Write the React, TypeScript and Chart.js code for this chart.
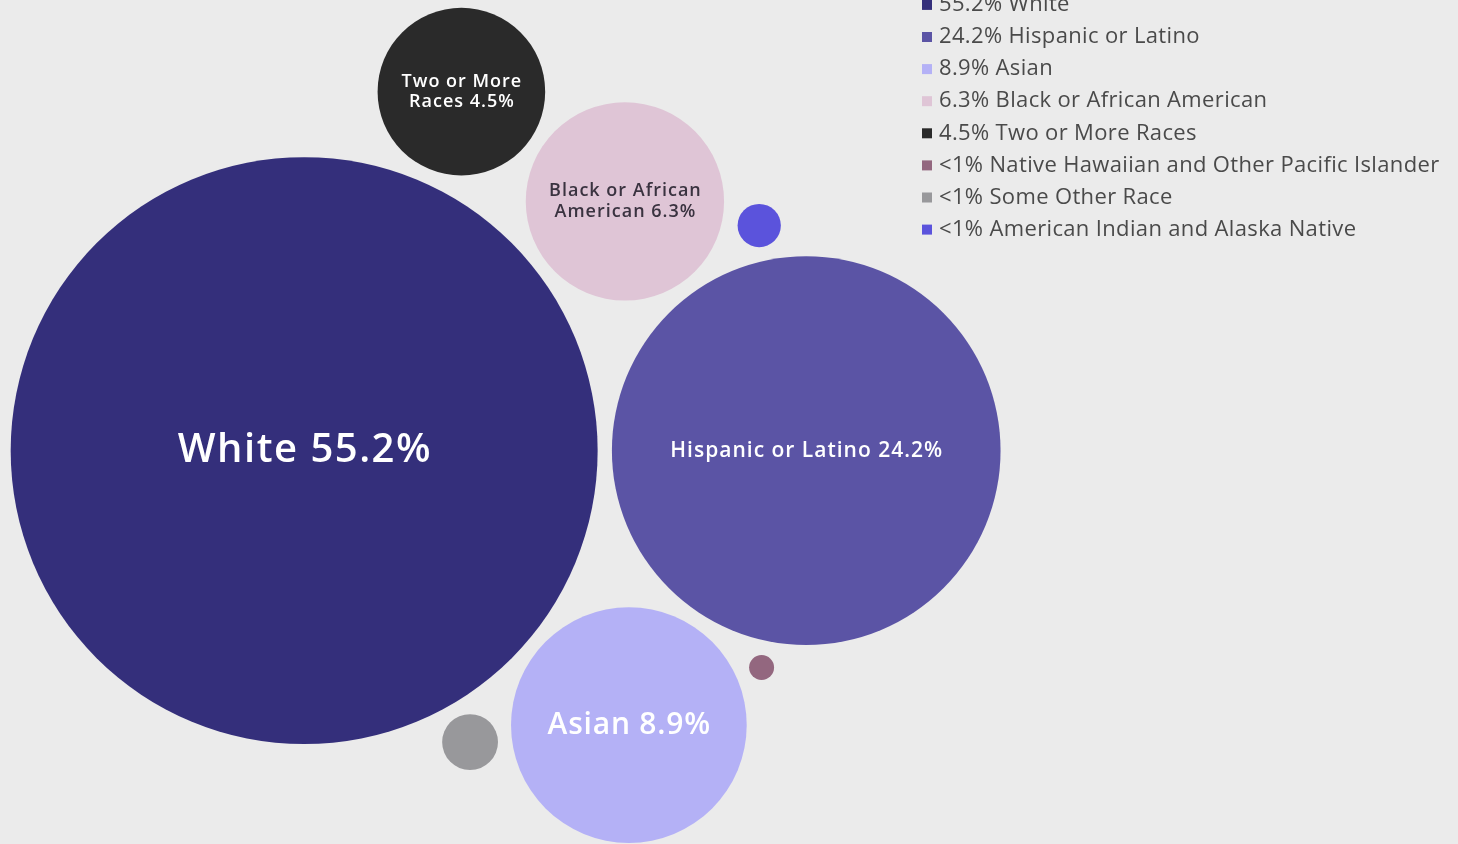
import React, { useEffect, useRef } from "react";
import { Chart, registerables } from "chart.js";

Chart.register(...registerables);

// ---- data ----
const groups = [
  "White",
  "Hispanic or Latino",
  "Asian",
  "Black or African American",
  "Two or More Races",
  "Native Hawaiian and Other Pacific Islander",
  "Some Other Race",
  "American Indian and Alaska Native",
];
const shares = [55.2, 24.2, 8.9, 6.3, 4.5, 0.1, 0.5, 0.3];
const shareLabels = ["55.2%", "24.2%", "8.9%", "6.3%", "4.5%", "<1%", "<1%", "<1%"];
// packed-bubble layout positions (units of sqrt(percent))
const bubbleX = [7.7, 20.41, 15.92, 15.82, 11.68, 19.28, 11.9, 19.22];
const bubbleY = [9.96, 9.96, 3.01, 16.27, 19.05, 4.47, 2.58, 15.66];
const bubbleLabelLines = [
  ["White 55.2%"],
  ["Hispanic or Latino 24.2%"],
  ["Asian 8.9%"],
  ["Black or African", "American 6.3%"],
  ["Two or More", "Races 4.5%"],
  [],
  [],
  [],
];

// ---- styles ----
const colors = ["#342f7b", "#5b54a5", "#b4b1f6", "#dfc5d6", "#2a2a2a", "#93677f", "#98989b", "#5b53dc"];
const labelColors = ["#ffffff", "#ffffff", "#ffffff", "#3a3340", "#ffffff", "#fff", "#fff", "#fff"];
const labelSizes = [40, 21, 30, 18, 18, 12, 12, 12];
const labelSpacing = [1.5, 1, 0.8, 1, 1, 0, 0, 0];
const X_MAX = 36.91;
const Y_MAX = 21.37;
const FONT = "'Open Sans', sans-serif";

const labelPlugin = {
  id: "bubbleLabels",
  afterDatasetsDraw(chart: any) {
    const ctx = chart.ctx;
    ctx.save();
    ctx.textAlign = "center";
    ctx.textBaseline = "middle";
    chart.data.datasets.forEach((ds: any, i: number) => {
      const el = chart.getDatasetMeta(i).data[0];
      if (!el) return;
      const lines = bubbleLabelLines[i];
      const size = labelSizes[i];
      const lh = size * 1.12;
      ctx.font = `600 ${size}px ${FONT}`;
      (ctx as any).letterSpacing = `${labelSpacing[i]}px`;
      ctx.fillStyle = labelColors[i];
      lines.forEach((t, k) => {
        ctx.fillText(t, el.x + labelSpacing[i] / 2, el.y + (k - (lines.length - 1) / 2) * lh);
      });
    });
    ctx.restore();
  },
};

const legendPlugin = {
  id: "sideLegend",
  afterDraw(chart: any) {
    const ctx = chart.ctx;
    ctx.save();
    ctx.textAlign = "left";
    ctx.textBaseline = "middle";
    ctx.font = `400 22px ${FONT}`;
    (ctx as any).letterSpacing = "0.35px";
    groups.forEach((g, i) => {
      const y = 4.9 + i * 32.1;
      ctx.fillStyle = colors[i];
      ctx.fillRect(922, y - 5, 10, 10);
      ctx.fillStyle = "#4a4a4a";
      ctx.fillText(`${shareLabels[i]} ${g}`, 939, y);
    });
    ctx.restore();
  },
};

export default function App() {
  const ref = useRef<HTMLCanvasElement>(null);
  useEffect(() => {
    if (!ref.current) return;
    const chart = new Chart(ref.current, {
      type: "bubble",
      data: {
        datasets: groups.map((g, i) => ({
          label: g,
          data: [{ x: bubbleX[i], y: bubbleY[i], r: 1 }],
          backgroundColor: colors[i],
          borderWidth: 0,
          clip: false,
          hoverRadius: 0,
        })),
      },
      options: {
        responsive: false,
        animation: false,
        events: [],
        layout: { padding: 0, autoPadding: false },
        scales: {
          x: { type: "linear", min: 0, max: X_MAX, display: false },
          y: { type: "linear", min: 0, max: Y_MAX, display: false },
        },
        plugins: { legend: { display: false }, tooltip: { enabled: false } },
      },
      plugins: [labelPlugin, legendPlugin],
    } as any);
    // bubble area proportional to share: radius = sqrt(share) in x-axis units
    const sx = chart.scales.x;
    const pxPerUnit = sx.getPixelForValue(1) - sx.getPixelForValue(0);
    chart.data.datasets.forEach((ds: any, i: number) => {
      ds.data[0].r = Math.sqrt(shares[i]) * pxPerUnit;
    });
    chart.update();
    return () => chart.destroy();
  }, []);
  return (
    <div style={{ position: "absolute", left: 0, top: 0, width: 1458, height: 844, background: "#ebebeb", overflow: "hidden" }}>
      <canvas ref={ref} width={1458} height={844} style={{ display: "block" }} />
    </div>
  );
}
